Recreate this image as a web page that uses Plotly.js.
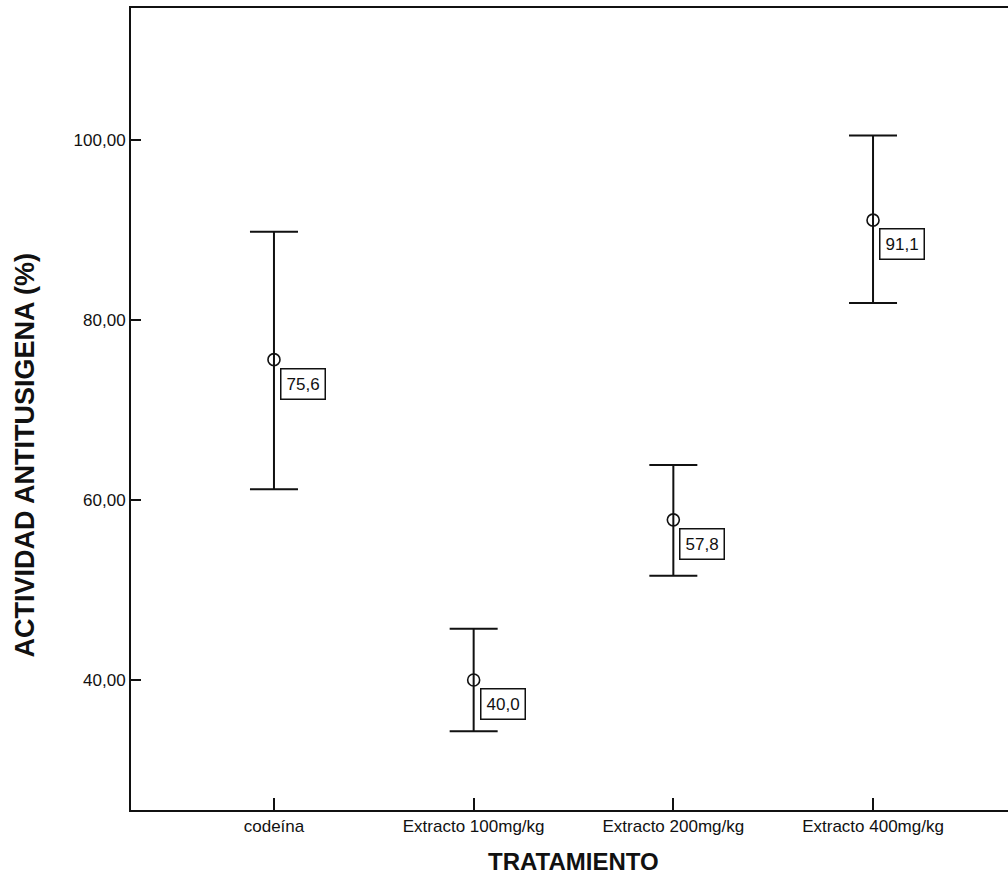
<!DOCTYPE html>
<html>
<head>
<meta charset="utf-8">
<script src="https://cdn.plot.ly/plotly-3.0.1.min.js"></script>
<style>
html,body{margin:0;padding:0;overflow:hidden;background:#fff;}
#chart{width:1030px;height:881px;}
</style>
</head>
<body>
<div id="chart"></div>
<script>
var categories = ["codeína", "Extracto 100mg/kg", "Extracto 200mg/kg", "Extracto 400mg/kg"];
var means = [75.6, 40.0, 57.8, 91.1];
var upper = [89.8, 45.7, 63.9, 100.5];
var lower = [61.2, 34.3, 51.6, 81.9];
var yTicks = [40, 60, 80, 100];
var yTitle = "ACTIVIDAD ANTITUSIGENA (%)";
var xTitle = "TRATAMIENTO";

var xIdx = categories.map(function(c, i){ return i; });
var errPlus = means.map(function(m, i){ return upper[i] - m; });
var errMinus = means.map(function(m, i){ return m - lower[i]; });

var tickFont = {family: "Liberation Sans, Arial, sans-serif", size: 17, color: "#111"};
var titleFont = {family: "Liberation Sans, Arial, sans-serif", size: 27, color: "#111"};

var trace = {
  x: xIdx,
  y: means,
  type: "scatter",
  mode: "markers",
  marker: {symbol: "circle-open", size: 12, color: "#111", line: {width: 1.6, color: "#111"}},
  error_y: {type: "data", symmetric: false, array: errPlus, arrayminus: errMinus, color: "#111", thickness: 2, width: 24},
  hoverinfo: "none",
  showlegend: false
};

var annotations = means.map(function(m, i){
  return {
    x: xIdx[i], y: m, xref: "x", yref: "y",
    text: m.toFixed(1).replace(".", ","),
    showarrow: false, xanchor: "left", yanchor: "top",
    xshift: 6, yshift: -8,
    font: {family: tickFont.family, size: 17, color: "#111"},
    bordercolor: "#111", borderwidth: 1.5, borderpad: 5, bgcolor: "#fff"
  };
});
annotations.push({
  x: -0.12, y: 0.443, xref: "paper", yref: "paper",
  text: "<b>" + yTitle + "</b>", textangle: -90, showarrow: false,
  xanchor: "center", yanchor: "middle", font: titleFont
});
annotations.push({
  x: 0.5, y: -0.0636, xref: "paper", yref: "paper",
  text: "<b>" + xTitle + "</b>", showarrow: false,
  xanchor: "center", yanchor: "middle", font: {family: titleFont.family, size: 24, color: "#111"}
});

var layout = {
  width: 1030, height: 881,
  margin: {l: 131, r: 14, t: 8, b: 71},
  paper_bgcolor: "#fff", plot_bgcolor: "#fff",
  separators: ",.",
  xaxis: {
    range: [-0.716, 3.716],
    tickmode: "array", tickvals: xIdx, ticktext: categories,
    ticks: "inside", ticklen: 12, tickwidth: 2, tickcolor: "#111",
    showline: true, linecolor: "#111", linewidth: 2, mirror: true,
    showgrid: false, zeroline: false, tickfont: tickFont
  },
  yaxis: {
    range: [25.56, 114.67],
    tickmode: "array", tickvals: yTicks, tickformat: ".2f",
    ticks: "inside", ticklen: 10, tickwidth: 2, tickcolor: "#111",
    showline: true, linecolor: "#111", linewidth: 2, mirror: true,
    showgrid: false, zeroline: false, tickfont: tickFont
  },
  annotations: annotations
};

Plotly.newPlot("chart", [trace], layout, {staticPlot: true, displayModeBar: false});
</script>
</body>
</html>
